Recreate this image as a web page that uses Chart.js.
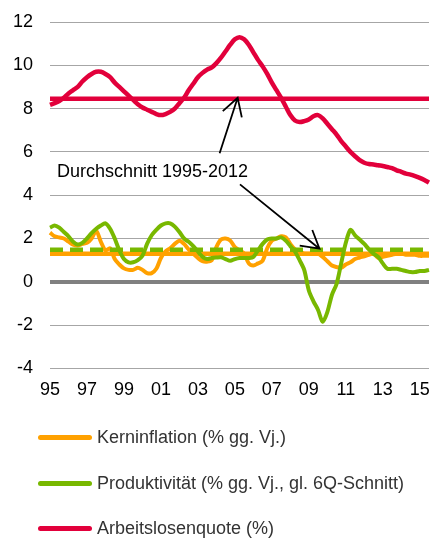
<!DOCTYPE html>
<html>
<head>
<meta charset="utf-8">
<script src="https://cdn.jsdelivr.net/npm/chart.js@4.4.1/dist/chart.umd.min.js"></script>
<style>
  body { margin: 0; background: #fff; }
  #wrap { position: relative; width: 430px; height: 538px; }
  #legend { position: absolute; left: 0; top: 0; width: 430px; height: 538px; pointer-events: none; }
  .item { position: absolute; left: 38px; height: 22px; display: flex; align-items: center;
          font: 18px "Liberation Sans", Arial, sans-serif; color: #333; white-space: nowrap; }
  .swatch { width: 54px; height: 5px; border-radius: 3px; margin-right: 5px; }
</style>
</head>
<body>
<div id="wrap">
  <canvas id="chart" width="430" height="538"></canvas>
  <div id="legend"></div>
</div>
<script>
// quarters 1995Q1 .. 2015Q3
const quarters = [];
for (let y = 1995; y <= 2015; y++) {
  for (let q = 1; q <= 4; q++) quarters.push(y + 'Q' + q);
}
quarters.length = 83;
const tickLabels = ['95','97','99','01','03','05','07','09','11','13','15'];

const kerninflation = [
  2.27,2.1,2.05,2.0,1.86,1.72,1.68,1.75,1.8,2.0,
  2.35,1.85,1.45,1.55,1.05,0.8,0.62,0.55,0.55,0.65,
  0.55,0.4,0.4,0.6,1.1,1.4,1.55,1.75,1.9,1.75,
  1.5,1.3,1.1,0.95,0.93,1.0,1.6,1.95,2.0,1.9,
  1.6,1.45,1.3,0.85,0.75,0.85,0.97,1.55,1.9,2.0,
  2.1,2.05,1.75,1.5,1.4,1.3,1.3,1.3,1.3,1.15,
  0.95,0.75,0.68,0.65,0.8,0.9,1.05,1.12,1.18,1.25,
  1.3,1.1,1.15,1.2,1.25,1.3,1.3,1.25,1.25,1.25,
  1.2,1.2,1.2
];
const produktivitaet = [
  2.5,2.6,2.5,2.3,2.1,1.85,1.72,1.8,2.0,2.25,
  2.45,2.6,2.7,2.45,2.0,1.45,1.05,0.9,0.9,1.0,
  1.2,1.75,2.15,2.4,2.6,2.7,2.7,2.55,2.3,2.0,
  1.85,1.65,1.4,1.15,1.05,1.1,1.12,1.13,1.05,0.97,
  1.05,1.1,1.1,1.1,1.15,1.45,1.75,1.95,2.0,2.0,
  2.05,1.9,1.65,1.4,1.0,0.55,-0.4,-0.9,-1.3,-1.85,
  -1.4,-0.6,-0.1,0.85,1.8,2.4,2.15,1.95,1.75,1.5,
  1.3,1.15,0.85,0.6,0.6,0.6,0.55,0.5,0.45,0.45,
  0.5,0.5,0.55
];
const arbeitslosenquote = [
  8.17,8.25,8.35,8.5,8.7,8.85,9.0,9.25,9.45,9.6,
  9.7,9.7,9.6,9.45,9.2,9.0,8.8,8.6,8.4,8.2,
  8.05,7.95,7.85,7.75,7.7,7.75,7.85,8.0,8.25,8.5,
  8.85,9.15,9.45,9.65,9.8,9.9,10.1,10.35,10.65,10.95,
  11.2,11.3,11.2,10.95,10.6,10.25,9.95,9.6,9.2,8.85,
  8.5,8.1,7.7,7.45,7.38,7.42,7.5,7.65,7.7,7.55,
  7.3,7.05,6.8,6.5,6.25,6.0,5.8,5.62,5.5,5.44,
  5.42,5.38,5.35,5.3,5.25,5.15,5.08,5.0,4.95,4.88,
  4.8,4.7,4.58
];

// Durchschnitt 1995-2012
const avgKern = 1.3;
const avgProd = 1.48;
const avgAlq = 8.45;

const orange = '#ffa100';
const green = '#78b800';
const red = '#e2003b';

const series = [
  { label: 'Kerninflation (% gg. Vj.)', data: kerninflation, color: orange },
  { label: 'Produktivität (% gg. Vj., gl. 6Q-Schnitt)', data: produktivitaet, color: green },
  { label: 'Arbeitslosenquote (%)', data: arbeitslosenquote, color: red }
];

// annotation, in data coordinates (x = quarter index)
const noteText = 'Durchschnitt 1995-2012';
const notePos = [1.5, 5.05];
const arrows = [
  [[36.7, 5.94], [40.6, 8.5]],
  [[41.1, 4.5], [58.3, 1.53]]
];

const annotationPlugin = {
  id: 'note',
  afterDatasetsDraw(chart) {
    const ctx = chart.ctx;
    const xs = chart.scales.x, ys = chart.scales.y;
    ctx.save();
    ctx.fillStyle = '#000';
    ctx.font = '18px "Liberation Sans", Arial, sans-serif';
    ctx.textBaseline = 'middle';
    ctx.fillText(noteText, xs.getPixelForValue(notePos[0]), ys.getPixelForValue(notePos[1]));
    ctx.strokeStyle = '#000';
    ctx.lineWidth = 1.8;
    arrows.forEach(a => {
      const x0 = xs.getPixelForValue(a[0][0]), y0 = ys.getPixelForValue(a[0][1]);
      const x1 = xs.getPixelForValue(a[1][0]), y1 = ys.getPixelForValue(a[1][1]);
      const ang = Math.atan2(y0 - y1, x0 - x1);
      const len = 20, spread = Math.PI / 6;
      ctx.beginPath();
      ctx.moveTo(x0, y0);
      ctx.lineTo(x1, y1);
      ctx.moveTo(x1 + len * Math.cos(ang - spread), y1 + len * Math.sin(ang - spread));
      ctx.lineTo(x1, y1);
      ctx.lineTo(x1 + len * Math.cos(ang + spread), y1 + len * Math.sin(ang + spread));
      ctx.stroke();
    });
    ctx.restore();
  }
};

Chart.defaults.font.family = '"Liberation Sans", Arial, sans-serif';
Chart.defaults.font.size = 18;
Chart.defaults.color = '#000';

const flat = v => quarters.map(() => v);

const ctx = document.getElementById('chart').getContext('2d');
const chart = new Chart(ctx, {
  type: 'line',
  data: {
    labels: quarters,
    datasets: [
      { data: flat(avgProd), borderColor: green, borderWidth: 4.5, borderDash: [13, 7], order: 0 },
      { data: produktivitaet, borderColor: green, borderWidth: 4, tension: 0.3, order: 1 },
      { data: kerninflation, borderColor: orange, borderWidth: 4, tension: 0.3, order: 2 },
      { data: flat(avgKern), borderColor: orange, borderWidth: 4.5, order: 3 },
      { data: arbeitslosenquote, borderColor: red, borderWidth: 4.5, tension: 0.3, order: 4 },
      { data: flat(avgAlq), borderColor: red, borderWidth: 4.5, order: 5 }
    ]
  },
  options: {
    responsive: false,
    animation: false,
    elements: { point: { radius: 0 } },
    layout: { padding: { top: 22, right: 1, left: 0, bottom: 126 } },
    plugins: { legend: { display: false }, tooltip: { enabled: false } },
    scales: {
      x: {
        offset: false,
        grid: { display: false, drawTicks: false },
        border: { display: false },
        afterFit: s => { s.paddingLeft = 0; s.paddingRight = 0; },
        ticks: {
          autoSkip: false, maxRotation: 0, minRotation: 0, padding: 11,
          callback: (v, i) => (i % 8 === 0 ? tickLabels[i / 8] : null)
        }
      },
      y: {
        min: -4, max: 12,
        afterFit: s => { s.width = 50; s.paddingTop = 0; s.paddingBottom = 0; },
        border: { display: false },
        grid: {
          drawTicks: false,
          color: c => (c.tick.value === 0 ? '#808080' : '#a6a6a6'),
          lineWidth: c => (c.tick.value === 0 ? 4 : 1)
        },
        ticks: { stepSize: 2, padding: 17 }
      }
    }
  },
  plugins: [annotationPlugin]
});

// legend, one entry per row
const legend = document.getElementById('legend');
const rowY = [437, 483, 528];
series.forEach((s, i) => {
  const item = document.createElement('div');
  item.className = 'item';
  item.style.top = (rowY[i] - 11) + 'px';
  const sw = document.createElement('span');
  sw.className = 'swatch';
  sw.style.background = s.color;
  item.appendChild(sw);
  item.appendChild(document.createTextNode(s.label));
  legend.appendChild(item);
});
</script>
</body>
</html>
